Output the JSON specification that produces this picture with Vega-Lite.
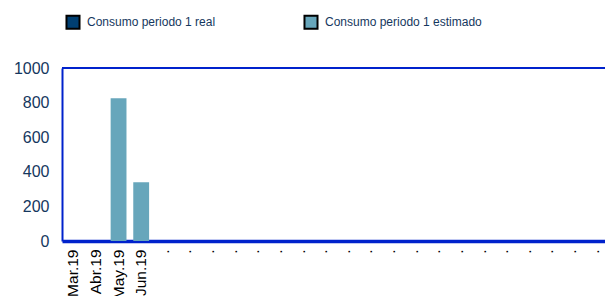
{
  "$schema": "https://vega.github.io/schema/vega-lite/v6.json",
  "autosize": "none",
  "width": 543,
  "height": 173,
  "padding": {"left": 62, "top": 68, "right": 0, "bottom": 55},
  "background": "white",
  "data": {
    "values": [
      {"mes": "Mar.19", "serie": "Consumo periodo 1 real", "valor": 0},
      {"mes": "Abr.19", "serie": "Consumo periodo 1 real", "valor": 0},
      {"mes": "May.19", "serie": "Consumo periodo 1 estimado", "valor": 825},
      {"mes": "Jun.19", "serie": "Consumo periodo 1 estimado", "valor": 340},
      {"mes": "Jul.19", "serie": "Consumo periodo 1 real", "valor": 0},
      {"mes": "Ago.19", "serie": "Consumo periodo 1 real", "valor": 0},
      {"mes": "Sep.19", "serie": "Consumo periodo 1 real", "valor": 0},
      {"mes": "Oct.19", "serie": "Consumo periodo 1 real", "valor": 0},
      {"mes": "Nov.19", "serie": "Consumo periodo 1 real", "valor": 0},
      {"mes": "Dic.19", "serie": "Consumo periodo 1 real", "valor": 0},
      {"mes": "Ene.20", "serie": "Consumo periodo 1 real", "valor": 0},
      {"mes": "Feb.20", "serie": "Consumo periodo 1 real", "valor": 0},
      {"mes": "Mar.20", "serie": "Consumo periodo 1 real", "valor": 0},
      {"mes": "Abr.20", "serie": "Consumo periodo 1 real", "valor": 0},
      {"mes": "May.20", "serie": "Consumo periodo 1 real", "valor": 0},
      {"mes": "Jun.20", "serie": "Consumo periodo 1 real", "valor": 0},
      {"mes": "Jul.20", "serie": "Consumo periodo 1 real", "valor": 0},
      {"mes": "Ago.20", "serie": "Consumo periodo 1 real", "valor": 0},
      {"mes": "Sep.20", "serie": "Consumo periodo 1 real", "valor": 0},
      {"mes": "Oct.20", "serie": "Consumo periodo 1 real", "valor": 0},
      {"mes": "Nov.20", "serie": "Consumo periodo 1 real", "valor": 0},
      {"mes": "Dic.20", "serie": "Consumo periodo 1 real", "valor": 0},
      {"mes": "Ene.21", "serie": "Consumo periodo 1 real", "valor": 0},
      {"mes": "Feb.21", "serie": "Consumo periodo 1 real", "valor": 0}
    ]
  },
  "config": {
    "view": {"stroke": null},
    "font": "Liberation Sans",
    "axisY": {
      "grid": false,
      "ticks": false,
      "labelOverlap": false,
      "labelFlush": false,
      "labelFontSize": 16,
      "labelColor": "#15375e",
      "labelPadding": 13,
      "domainColor": "#0022cc",
      "domainWidth": 2,
      "title": null
    }
  },
  "layer": [
    {
      "mark": {"type": "bar"},
      "encoding": {
        "x": {
          "field": "mes",
          "type": "nominal",
          "sort": null,
          "scale": {"paddingInner": 0.3, "paddingOuter": 0.15},
          "axis": {
            "title": null,
            "labelAngle": 270,
            "labelAlign": "right",
            "labelBaseline": "middle",
            "labelFontSize": 15.5,
            "labelColor": "#000000",
            "labelPadding": 8,
            "labelOverlap": false,
            "ticks": false,
            "domainColor": "#0022cc",
            "domainWidth": 3.5,
            "labelExpr": "indexof(['Mar.19','Abr.19','May.19','Jun.19'], datum.value) >= 0 ? datum.value : '.'"
          }
        },
        "y": {
          "field": "valor",
          "type": "quantitative",
          "scale": {"domain": [0, 1000]},
          "axis": {"values": [0, 200, 400, 600, 800, 1000], "labelOverlap": false, "format": "d"}
        },
        "color": {
          "field": "serie",
          "type": "nominal",
          "scale": {
            "domain": ["Consumo periodo 1 real", "Consumo periodo 1 estimado"],
            "range": ["#003f72", "#67a6bb"]
          },
          "legend": {
            "title": null,
            "orient": "none",
            "legendX": 3,
            "legendY": -54,
            "direction": "horizontal",
            "columns": 2,
            "columnPadding": 84,
            "symbolType": "square",
            "symbolSize": 170,
            "symbolStrokeColor": "#000000",
            "symbolStrokeWidth": 2,
            "symbolOpacity": 1,
            "labelFontSize": 12,
            "labelColor": "#15375e",
            "labelOffset": 6,
            "labelLimit": 300
          }
        }
      }
    },
    {
      "mark": {"type": "rule", "color": "#0022cc", "strokeWidth": 2},
      "encoding": {
        "y": {"datum": 1000, "type": "quantitative", "axis": {"values": [0, 200, 400, 600, 800, 1000], "labelOverlap": false, "format": "d"}}
      }
    }
  ]
}
